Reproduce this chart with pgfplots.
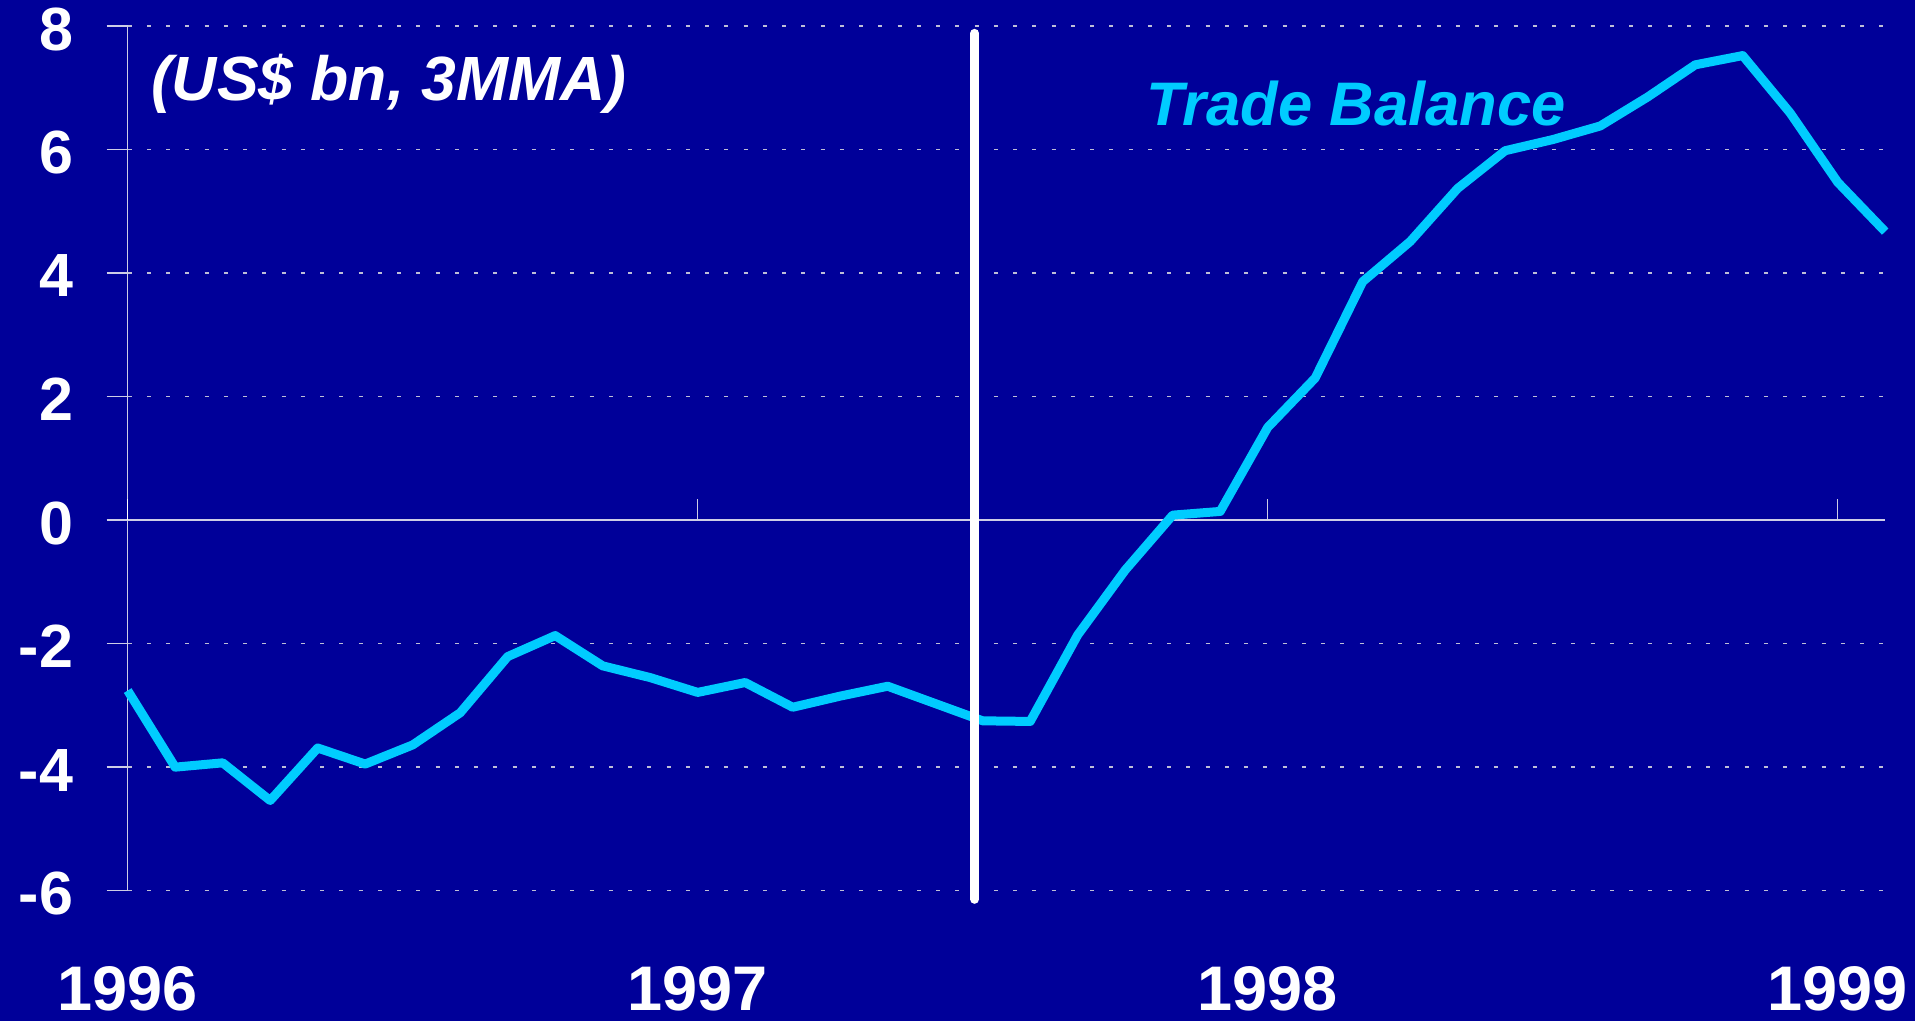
\documentclass[border=0pt]{standalone}
\usepackage{fontspec}
\setmainfont{Liberation Sans}
\usepackage{pgfplots}
\usepackage{pgfplotstable}
\pgfplotsset{compat=1.18}
\definecolor{bgblue}{RGB}{0,0,153}
\definecolor{tbcyan}{RGB}{0,204,255}
\definecolor{gridc}{RGB}{190,190,215}
\definecolor{axc}{RGB}{205,205,230}
\pgfplotstableread{
x y
0 -2.76
1 -4.00
2 -3.93
3 -4.54
4 -3.69
5 -3.95
6 -3.64
7 -3.12
8 -2.21
9 -1.87
10 -2.36
11 -2.55
12 -2.79
13 -2.63
14 -3.03
15 -2.85
16 -2.69
17 -2.97
18 -3.25
19 -3.26
20 -1.86
21 -0.81
22 0.08
23 0.14
24 1.50
25 2.30
26 3.86
27 4.51
28 5.37
29 5.98
30 6.16
31 6.38
32 6.85
33 7.37
34 7.52
35 6.59
36 5.47
37 4.67
}\tradebal
\begin{document}
\begin{tikzpicture}
\fill[bgblue] (0,0) rectangle (766pt,408.4pt);
\begin{axis}[
  at={(51.08pt,52.12pt)}, anchor=south west,
  scale only axis, width=703pt, height=345.9pt,
  xmin=0, xmax=37, ymin=-6, ymax=8,
  axis x line*=bottom, axis y line*=left,
  x axis line style={draw=none},
  y axis line style={axc, line width=0.6pt, -},
  tick align=inside,
  xtick={0,12,24,36}, xticklabels={1996,1997,1998,1999},
  xtick style={draw=none},
  ytick={-6,-4,-2,0,2,4,6,8}, yticklabels={-6,-4,-2,0,2,4,6,8},
  ytick style={axc, line width=0.6pt, xshift=-8.4pt},
  major tick length=8.4pt,
  ymajorgrids,
  major grid style={gridc, line width=0.6pt, dash pattern=on 1.6pt off 6.1pt},
  xticklabel style={anchor=center, inner sep=0pt, text depth=0pt, yshift=-39.2pt, font=\fontsize{25.2}{26}\selectfont\bfseries, text=white},
  yticklabel style={anchor=east, inner sep=0pt, text depth=0pt, xshift=-21.6pt, yshift=-1.2pt, font=\fontsize{24.4}{26}\selectfont\bfseries, text=white},
  clip=false,
]
\draw[axc, line width=0.6pt] (axis cs:-0.436,0) -- (axis cs:37,0);
\draw[white, line width=0.6pt] (axis cs:0,0) -- (axis cs:0,0.34);
\draw[axc, line width=0.6pt] (axis cs:12,0) -- (axis cs:12,0.34);
\draw[axc, line width=0.6pt] (axis cs:24,0) -- (axis cs:24,0.34);
\draw[axc, line width=0.6pt] (axis cs:36,0) -- (axis cs:36,0.34);
\addplot[tbcyan, line width=3.6pt, line join=round] table[x=x, y=y] {\tradebal};
\addplot[white, line width=3.6pt, line cap=round] coordinates {(17.83,-6.14) (17.83,7.88)};
\node[text=white, font=\fontsize{25}{30}\selectfont\bfseries\itshape] at (axis cs:5.50,7.07) {(US\$ bn, 3MMA)};
\node[text=tbcyan, font=\fontsize{24.6}{30}\selectfont\bfseries\itshape] at (axis cs:25.86,6.75) {Trade Balance};
\end{axis}
\pgfresetboundingbox
\path (0,0) rectangle (766pt,408.4pt);
\end{tikzpicture}
\end{document}
